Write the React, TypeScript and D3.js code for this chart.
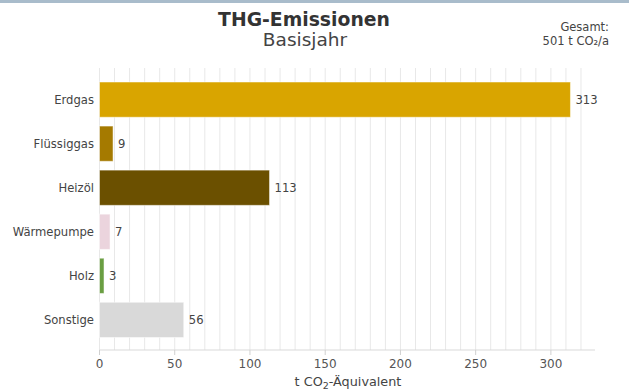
import React from "react";
import * as d3 from "d3";

const categories = ["Erdgas", "Flüssiggas", "Heizöl", "Wärmepumpe", "Holz", "Sonstige"];
const values = [313, 9, 113, 7, 3, 56];
const colors = ["#D9A500", "#A57A00", "#6B5000", "#EBD4DD", "#6A9E42", "#D9D9D9"];
const xTicks = [0, 50, 100, 150, 200, 250, 300];
const title = "THG-Emissionen";
const subtitle = "Basisjahr";
const totalLabel = "Gesamt:";
const totalValue = "501 t CO₂/a";

export default function App() {
  const W = 629, H = 392;
  const font = "DejaVu Sans, sans-serif";
  const x = d3.scaleLinear().domain([0, d3.max(values)! * 1.05]).range([99.5, 594]);
  const y = d3.scaleBand<string>().domain(categories).range([77.6, 341.9]).paddingInner(0.2).paddingOuter(0.1);
  const grid = d3.range(0, 330, 10);
  const axisY = 350;
  return (
    <svg width={W} height={H} style={{ position: "absolute", left: 0, top: 0, background: "#fff" }} fontFamily={font}>
      <rect x={0} y={0} width={W} height={3} fill="#A9BCCB" />
      <text x={304} y={26} textAnchor="middle" fontSize={18.8} fontWeight="bold" fill="#333">{title}</text>
      <text x={305} y={46} textAnchor="middle" fontSize={18.5} fill="#444">{subtitle}</text>
      <text x={609} y={31} textAnchor="end" fontSize={11.5} fill="#444">{totalLabel}</text>
      <text x={609} y={45} textAnchor="end" fontSize={11.5} fill="#444">{totalValue}</text>
      {grid.map((g) => (
        <line key={g} x1={x(g)} x2={x(g)} y1={68} y2={axisY} stroke="#E8E8E8" strokeWidth={1} />
      ))}
      <line x1={99.5} x2={595} y1={axisY} y2={axisY} stroke="#D9D9D9" strokeWidth={1} />
      {xTicks.map((t) => (
        <g key={t}>
          <line x1={x(t)} x2={x(t)} y1={axisY} y2={axisY + 5} stroke="#D0D0D0" />
          <text x={x(t)} y={368} textAnchor="middle" fontSize={12} fill="#555">{t}</text>
        </g>
      ))}
      <text x={348} y={386} textAnchor="middle" fontSize={12.8} fill="#444">
        t CO<tspan dy={3} fontSize={9.5}>2</tspan><tspan dy={-3}>-Äquivalent</tspan>
      </text>
      {categories.map((c, i) => (
        <g key={c}>
          <rect x={x(0)} y={y(c)!} width={x(values[i]) - x(0)} height={y.bandwidth()} fill={colors[i]} stroke="#fff" strokeOpacity={0.5} strokeWidth={1} />
          <text x={94} y={y(c)! + y.bandwidth() / 2} dy="0.35em" textAnchor="end" fontSize={11.6} fill="#444">{c}</text>
          <text x={x(values[i]) + 5} y={y(c)! + y.bandwidth() / 2} dy="0.35em" fontSize={11.6} fill="#444">{values[i]}</text>
        </g>
      ))}
    </svg>
  );
}
